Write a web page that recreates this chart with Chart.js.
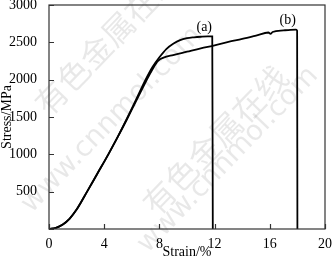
<!DOCTYPE html>
<html>
<head>
<meta charset="utf-8">
<script src="https://cdn.jsdelivr.net/npm/chart.js@4"></script>
<style>
  html, body { margin: 0; padding: 0; background: #fff; }
  #wrap { width: 334px; height: 259px; }
</style>
</head>
<body>
<div id="wrap"><canvas id="stress-chart"></canvas></div>
<script>
// curve (a)
const strainA = [0, 0.5, 1, 1.5, 2, 2.76, 3.5, 4.3, 5, 5.65, 6.3, 7, 7.5, 8, 8.5, 9, 9.5, 10, 10.5, 11, 11.5, 11.83, 11.87];
const stressA = [0, 15, 60, 140, 260, 500, 740, 1000, 1240, 1480, 1730, 2000, 2170, 2300, 2410, 2480, 2530, 2555, 2567, 2575, 2580, 2580, 0];
// curve (b)
const strainB = [0, 0.5, 1, 1.5, 2, 2.76, 3.5, 4.3, 5, 5.65, 6.3, 7.05, 7.5, 7.9, 8.3, 9, 10, 11, 12, 13, 14, 15, 15.9, 16.05, 16.2, 17, 17.5, 17.9, 17.98, 18.0];
const stressB = [0, 15, 60, 140, 260, 500, 740, 1000, 1240, 1470, 1710, 1985, 2140, 2250, 2295, 2330, 2375, 2420, 2460, 2505, 2545, 2590, 2632, 2612, 2638, 2660, 2668, 2670, 2655, 0];

const curveLabels = ['(a)', '(b)'];
const labelStrain = [11.25, 17.3];
const labelStress = [2700, 2800];

const xTicks = { min: 0, max: 20, step: 4 };
const yTicks = { min: 0, max: 3000, step: 500 };

const serif = '"Liberation Serif", "Times New Roman", serif';

function toPoints(xs, ys) {
  return xs.map((x, i) => ({ x: x, y: ys[i] }));
}

// faint site watermark behind the curves
const watermarkPlugin = {
  id: 'watermark',
  beforeDatasetsDraw(chart) {
    const ctx = chart.ctx;
    const marks = [
      { text: '有色金属在线', x: 107, y: 40, font: '32px "Noto Sans CJK SC"' },
      { text: 'www.cnnmol.com', x: 112, y: 120, font: '28px "DejaVu Sans"' },
      { text: '有色金属在线', x: 215, y: 140, font: '32px "Noto Sans CJK SC"' },
      { text: 'www.cnnmol.com', x: 228, y: 160, font: '28px "DejaVu Sans"' }
    ];
    ctx.save();
    marks.forEach(m => {
      ctx.save();
      ctx.translate(m.x, m.y);
      ctx.rotate(-46 * Math.PI / 180);
      ctx.font = m.font;
      ctx.fillStyle = 'rgba(0,0,0,0.09)';
      ctx.textAlign = 'center';
      ctx.textBaseline = 'middle';
      ctx.fillText(m.text, 0, 0);
      ctx.restore();
    });
    ctx.restore();
  }
};

// box frame, inward ticks, curve labels
const framePlugin = {
  id: 'frame',
  afterDatasetsDraw(chart) {
    const ctx = chart.ctx;
    const area = chart.chartArea;
    const sx = chart.scales.x;
    const sy = chart.scales.y;
    ctx.save();
    ctx.strokeStyle = '#333';
    ctx.lineWidth = 1.2;
    ctx.strokeRect(area.left, area.top, area.right - area.left, area.bottom - area.top);
    ctx.beginPath();
    for (let v = xTicks.min; v <= xTicks.max; v += xTicks.step) {
      const px = Math.round(sx.getPixelForValue(v)) + 0.5;
      ctx.moveTo(px, area.bottom);
      ctx.lineTo(px, area.bottom - 5);
    }
    for (let v = yTicks.min; v <= yTicks.max; v += yTicks.step) {
      const py = Math.round(sy.getPixelForValue(v)) + 0.5;
      ctx.moveTo(area.left, py);
      ctx.lineTo(area.left + 5, py);
    }
    ctx.stroke();

    ctx.fillStyle = '#000';
    ctx.font = '14px ' + serif;
    ctx.textAlign = 'center';
    ctx.textBaseline = 'middle';
    curveLabels.forEach((t, i) => {
      ctx.fillText(t, sx.getPixelForValue(labelStrain[i]), sy.getPixelForValue(labelStress[i]));
    });
    ctx.restore();
  }
};

const lineStyle = {
  showLine: true,
  borderColor: '#000',
  borderWidth: 1.8,
  pointRadius: 0,
  cubicInterpolationMode: 'monotone',
  fill: false
};

new Chart(document.getElementById('stress-chart'), {
  type: 'scatter',
  data: {
    datasets: [
      Object.assign({ label: 'a', data: toPoints(strainA, stressA) }, lineStyle),
      Object.assign({ label: 'b', data: toPoints(strainB, stressB) }, lineStyle)
    ]
  },
  options: {
    responsive: true,
    maintainAspectRatio: false,
    animation: false,
    layout: { padding: { top: 5, right: 9, left: 0, bottom: 0 } },
    plugins: {
      legend: { display: false },
      tooltip: { enabled: false }
    },
    scales: {
      x: {
        type: 'linear',
        min: xTicks.min,
        max: xTicks.max,
        grid: { display: false },
        border: { display: false },
        ticks: { stepSize: xTicks.step, color: '#000', padding: 0, maxRotation: 0, font: { family: serif, size: 14, lineHeight: 1 } },
        title: { display: true, text: 'Strain/%', color: '#000', padding: 0, font: { family: serif, size: 14, lineHeight: 1 } },
        afterFit(scale) {
          scale.height = 30;
          scale.paddingLeft = 0;
          scale.paddingRight = 0;
        }
      },
      y: {
        type: 'linear',
        min: yTicks.min,
        max: yTicks.max,
        grid: { display: false },
        border: { display: false },
        ticks: {
          stepSize: yTicks.step,
          color: '#000',
          padding: 4,
          font: { family: serif, size: 14 },
          callback: v => (v === 0 ? '' : v)
        },
        title: { display: true, text: 'Stress/MPa', color: '#000', padding: 0, font: { family: serif, size: 14, lineHeight: 1 } },
        afterFit(scale) {
          scale.width = 49;
          scale.paddingTop = 0;
          scale.paddingBottom = 0;
        }
      }
    }
  },
  plugins: [watermarkPlugin, framePlugin]
});
</script>
</body>
</html>
